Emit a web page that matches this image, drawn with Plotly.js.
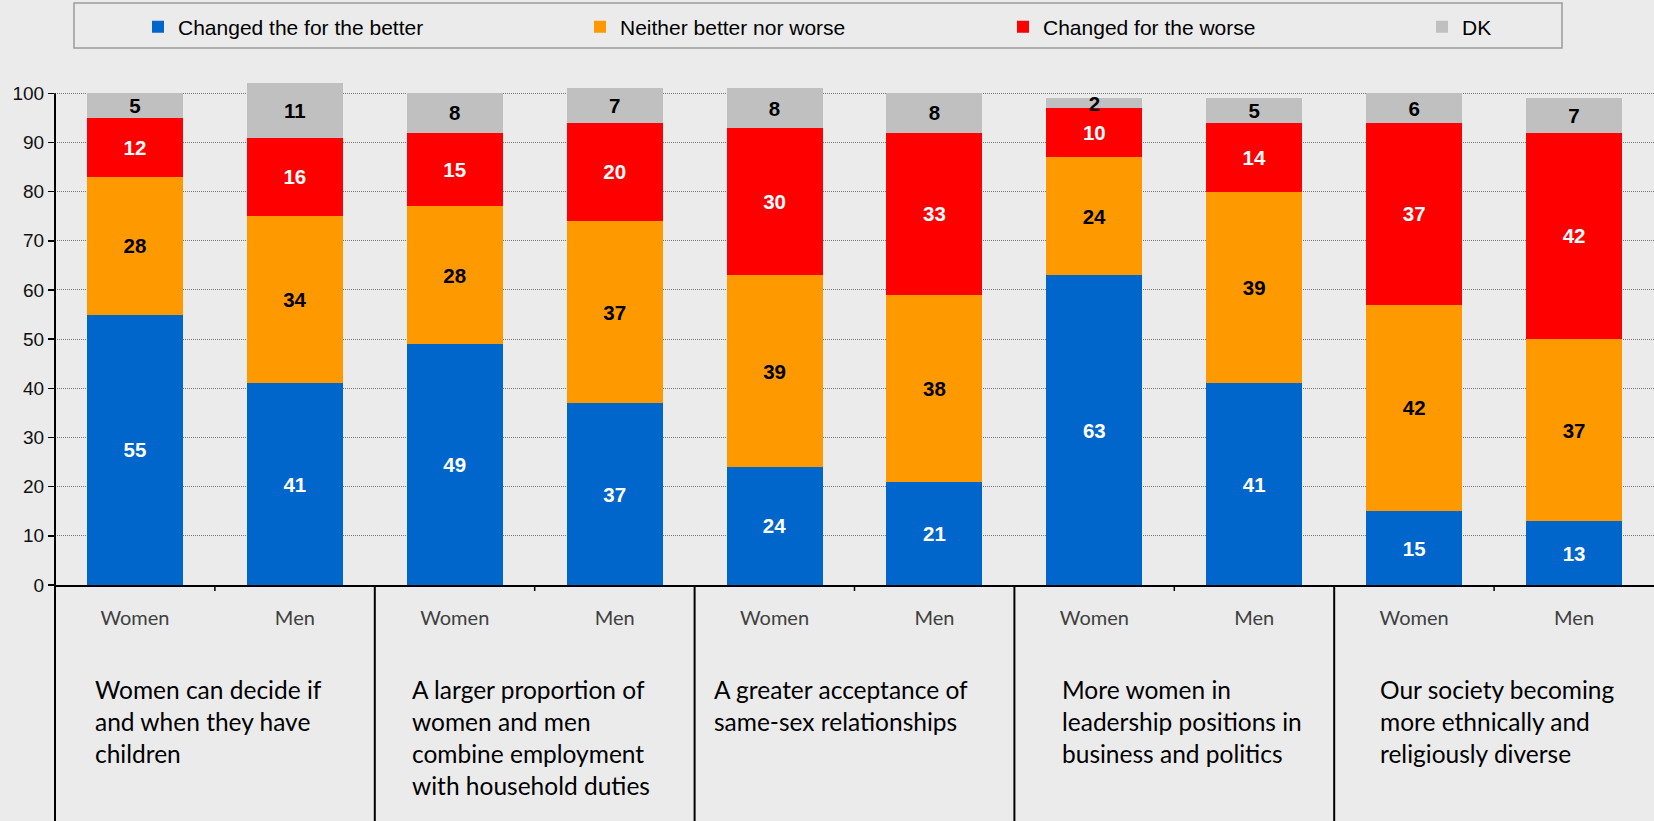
<!DOCTYPE html>
<html><head><meta charset="utf-8">
<script src="https://cdn.plot.ly/plotly-3.0.1.min.js"></script>
<style>html,body{margin:0;padding:0;background:#EBEBEB;}</style>
</head><body><div id="chart" style="width:1654px;height:821px;"></div>
<script>
// ---- data ----
const groupLabels = [
  "Women can decide if<br>and when they have<br>children",
  "A larger proportion of<br>women and men<br>combine employment<br>with household duties",
  "A greater acceptance of<br>same-sex relationships",
  "More women in<br>leadership positions in<br>business and politics",
  "Our society becoming<br>more ethnically and<br>religiously diverse"
];
const barLabels = ["Women","Men","Women","Men","Women","Men","Women","Men","Women","Men"];
const seriesNames = ["Changed the for the better","Neither better nor worse","Changed for the worse","DK"];
const better  = [55, 41, 49, 37, 24, 21, 63, 41, 15, 13];
const neither = [28, 34, 28, 37, 39, 38, 24, 39, 42, 37];
const worse   = [12, 16, 15, 20, 30, 33, 10, 14, 37, 42];
const dk      = [ 5, 11,  8,  7,  8,  8,  2,  5,  6,  7];
const yTickValues = [0,10,20,30,40,50,60,70,80,90,100];

// ---- styling / geometry ----
const colors = ['#0066CC','#FF9900','#FF0000','#C0C0C0'];
const labelColors = ['#FFFFFF','#000000','#FFFFFF','#000000'];
const series = [better, neither, worse, dk];
const xIdx = barLabels.map((_, i) => i);

const Wd = 1654, H = 821, L = 55, T = 79, B = 236;
const plotH = H - T - B, plotW = Wd - L;
const pxPerUnit = 4.917;
const yMax = plotH / pxPerUnit;
const px2x = px => (px - L) / plotW;
const px2y = py => (H - B - py) / plotH;

const numFont = 'Liberation Sans, Arial, sans-serif';
const txtFont = 'Lato, Open Sans, sans-serif';

const legendIds = ['legend','legend2','legend3','legend4'];
const legendTextStart = [178, 620, 1043, 1462];
const groupTextLeft = [93, 410, 712, 1060, 1378];

const traces = series.map((vals, k) => ({
  type: 'bar', x: xIdx, y: vals, name: seriesNames[k],
  marker: {color: colors[k], line: {width: 0}},
  width: 0.6,
  text: vals.map(String), textposition: 'inside', insidetextanchor: 'middle',
  constraintext: 'none', textangle: 0,
  textfont: {family: numFont, size: 20.5, color: labelColors[k], weight: 'bold'},
  legend: legendIds[k], hoverinfo: 'skip'
}));

const nGroups = groupLabels.length;
const shapes = [];
// legend frame
shapes.push({type:'rect', xref:'paper', yref:'paper', x0:px2x(74), x1:px2x(1562), y0:px2y(48), y1:px2y(3),
  line:{color:'#9c9c9c', width:1.5}, fillcolor:'rgba(0,0,0,0)', layer:'below'});
// y axis line continuing to bottom
shapes.push({type:'line', xref:'paper', yref:'paper', x0:0, x1:0, y0:px2y(H), y1:100/yMax,
  line:{color:'#000', width:2}});
// group dividers
for (let g = 1; g < nGroups; g++) {
  shapes.push({type:'line', xref:'paper', yref:'paper', x0:g/nGroups, x1:g/nGroups, y0:px2y(H), y1:0,
    line:{color:'#000', width:2}});
}
// small ticks at category boundaries
for (let i = 1; i < barLabels.length; i += 2) {
  shapes.push({type:'line', xref:'paper', yref:'paper', x0:i/barLabels.length, x1:i/barLabels.length,
    y0:-6/plotH, y1:0, line:{color:'#000', width:1.5}});
}

const annotations = groupLabels.map((t, g) => ({
  text: t, xref:'paper', yref:'paper', x:px2x(groupTextLeft[g]), y:px2y(673),
  xanchor:'left', yanchor:'top', align:'left', showarrow:false,
  font:{family: txtFont, size: 24.5, color:'#000'}
}));

const layout = {
  width: Wd, height: H,
  margin: {l: L, r: 0, t: T, b: B, pad: 0},
  paper_bgcolor: '#EBEBEB', plot_bgcolor: '#EBEBEB',
  barmode: 'stack',
  showlegend: true,
  xaxis: {
    type: 'linear', range: [-0.5, barLabels.length - 0.5],
    tickmode: 'array', tickvals: xIdx, ticktext: barLabels,
    ticks: '', ticklabelstandoff: 14,
    tickfont: {family: txtFont, size: 20, color: '#404040'},
    showline: true, linecolor: '#000', linewidth: 2,
    showgrid: false, zeroline: false, fixedrange: true
  },
  yaxis: {
    range: [0, yMax],
    tickmode: 'array', tickvals: yTickValues,
    ticks: 'outside', ticklen: 6, tickwidth: 1.5, tickcolor: '#000',
    tickfont: {family: numFont, size: 19, color: '#111'},
    showline: false, zeroline: false,
    showgrid: true, gridcolor: '#777777', griddash: '1px,1px', gridwidth: 1,
    fixedrange: true
  },
  shapes: shapes,
  annotations: annotations
};
legendIds.forEach((id, k) => {
  layout[id] = {
    orientation: 'h', xanchor: 'left', yanchor: 'middle',
    x: px2x(legendTextStart[k] - 40), y: px2y(27),
    bgcolor: 'rgba(0,0,0,0)', borderwidth: 0,
    font: {family: numFont, size: 21, color: '#000'}
  };
});

Plotly.newPlot('chart', traces, layout, {displayModeBar: false, staticPlot: true});
</script>
</body></html>
